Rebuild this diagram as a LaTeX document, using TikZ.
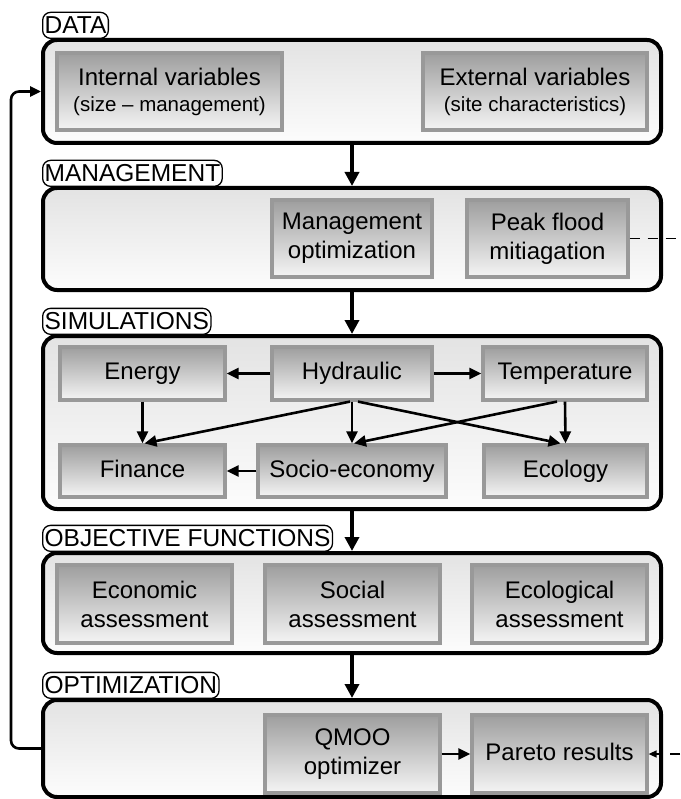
\documentclass[tikz,border=0pt]{standalone}
\usepackage{fontspec}
\setmainfont{Liberation Sans}
\usetikzlibrary{arrows.meta}
\definecolor{boxtop}{gray}{0.62}
\definecolor{boxbot}{gray}{0.96}
\definecolor{boxline}{gray}{0.60}
\definecolor{paneltop}{gray}{0.89}
\definecolor{panelbot}{gray}{0.99}
\tikzset{
  panel/.style={draw=black, line width=4pt, rounded corners=14pt, top color=paneltop, bottom color=panelbot, inner sep=0pt},
  gbox/.style={draw=boxline, line width=3.2pt, top color=boxtop, bottom color=boxbot, inner sep=0pt, align=center, font=\fontsize{24}{29}\selectfont},
  sbox/.style={gbox, text height=17pt, text depth=5pt},
  tag/.style={draw=black, line width=1.3pt, rounded corners=8pt, fill=white, inner xsep=2pt, inner ysep=0pt, minimum height=26pt, anchor=south west, font=\fontsize{24.5}{27}\selectfont},
  bigarrow/.style={line width=3.5pt, -{Triangle[length=14pt,width=14pt]}},
  arr/.style={line width=2.6pt, -{Triangle[length=12pt,width=11pt]}},
  fb/.style={line width=2.6pt, rounded corners=8pt, -{Triangle[length=11pt,width=10pt]}},
  dashline/.style={line width=1.5pt, dash pattern=on 10pt off 8pt},
}
\begin{document}
\begin{tikzpicture}[x=1pt,y=-1pt]
\useasboundingbox (0,0) rectangle (680,799);
% panels
\node[panel, minimum width=618pt, minimum height=103pt] (data) at (352,91.5) {};
\node[panel, minimum width=618pt, minimum height=102pt] (mgmt) at (352,239) {};
\node[panel, minimum width=618pt, minimum height=173pt] (sim) at (352,422.5) {};
\node[panel, minimum width=618pt, minimum height=100pt] (obj) at (352,603) {};
\node[panel, minimum width=618pt, minimum height=97pt] (opt) at (352,748.5) {};
% tags
\node[tag] (tdata) at (42,39) {DATA};
\node[tag] (tmgmt) at (42,187) {MANAGEMENT};
\node[tag] (tsim) at (42,335) {SIMULATIONS};
\node[tag] (tobj) at (42,552) {OBJECTIVE FUNCTIONS};
\node[tag] (topt) at (42,699) {OPTIMIZATION};
% data boxes
\node[gbox, minimum width=225pt, minimum height=77pt, font=\fontsize{24}{26}\selectfont] (intv) at (169.5,91.5) {Internal variables\\{\fontsize{20.5}{24}\selectfont (size -- management)}};
\node[gbox, minimum width=224pt, minimum height=77pt, font=\fontsize{24}{26}\selectfont] (extv) at (535,91.5) {External variables\\{\fontsize{20.5}{24}\selectfont (site characteristics)}};
% management boxes
\node[gbox, minimum width=160pt, minimum height=77pt] (mopt) at (352,238.5) {Management\\optimization};
\node[gbox, minimum width=161pt, minimum height=77pt] (peak) at (547.5,238.5) {Peak flood\\mitiagation};
% simulation boxes
\node[sbox, minimum width=165pt, minimum height=53pt] (energy) at (142.5,373.5) {Energy};
\node[sbox, minimum width=160pt, minimum height=53pt] (hydr) at (352,373.5) {Hydraulic};
\node[sbox, minimum width=164pt, minimum height=53pt] (temp) at (565,373.5) {Temperature};
\node[sbox, minimum width=165pt, minimum height=52pt] (fin) at (142.5,471) {Finance};
\node[sbox, minimum width=188pt, minimum height=52pt] (socio) at (352,471) {Socio-economy};
\node[sbox, minimum width=163pt, minimum height=52pt] (eco) at (565.5,471) {Ecology};
% objective boxes
\node[gbox, minimum width=175pt, minimum height=78pt] (econ) at (144.5,604) {Economic\\assessment};
\node[gbox, minimum width=175pt, minimum height=78pt] (soc) at (352.5,604) {Social\\assessment};
\node[gbox, minimum width=175pt, minimum height=78pt] (ecol) at (559.5,604) {Ecological\\assessment};
% optimization boxes
\node[gbox, minimum width=175pt, minimum height=78pt] (qmoo) at (352.5,754) {QMOO\\optimizer};
\node[sbox, minimum width=175pt, minimum height=78pt] (pareto) at (559.5,754) {Pareto results};
% coordinates
\coordinate (dend1) at (680,238.5);
\coordinate (dend2) at (680,754);
% panel arrows
\draw[bigarrow] (data.south) -- (mgmt.north);
\draw[bigarrow] (mgmt.south) -- (sim.north);
\draw[bigarrow] (sim.south) -- (obj.north);
\draw[bigarrow] (obj.south) -- (opt.north);
% simulation arrows
\draw[arr] (hydr.west) -- (energy.east);
\draw[arr] (hydr.east) -- (temp.west);
\draw[arr] (energy.south) -- (fin.north);
\draw[arr] (socio.west) -- (fin.east);
\draw[arr] ([xshift=-2pt]hydr.south) -- ([xshift=2pt]fin.north);
\draw[arr] (hydr.south) -- (socio.north);
\draw[arr] ([xshift=6pt]hydr.south) -- ([xshift=-5pt]eco.north);
\draw[arr] ([xshift=-8pt]temp.south) -- ([xshift=2pt]socio.north);
\draw[arr] (temp.south) -- (eco.north);
% optimization arrows
\draw[arr] (qmoo.east) -- (pareto.west);
\draw[dashline] (peak.east) -- (dend1);
\draw[dashline, -{Triangle[length=8pt,width=7pt]}] (dend2) -- (pareto.east);
% feedback
\draw[fb] (opt.west) -- ++(-30,0) |- (data.west);
\end{tikzpicture}
\end{document}
